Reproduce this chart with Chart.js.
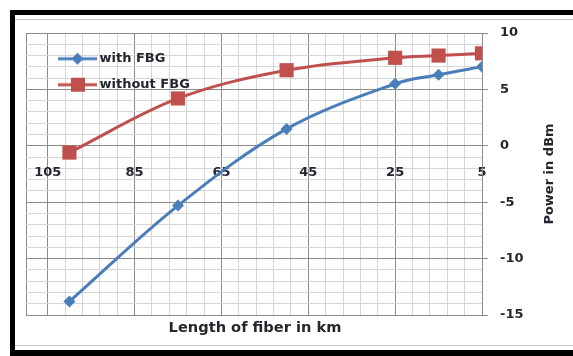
<!DOCTYPE html>
<html>
<head>
<meta charset="utf-8">
<script src="https://cdn.jsdelivr.net/npm/chart.js@4.4.0/dist/chart.umd.min.js"></script>
<style>
  body { margin: 0; background: #fff; }
  #wrap { position: relative; width: 573px; height: 356px; overflow: hidden; }
  #chart { position: absolute; left: 0; top: 0; }
  .frame { position: absolute; pointer-events: none; }
</style>
</head>
<body>
<div id="wrap">
  <canvas id="chart" width="573" height="356"></canvas>
  <div class="frame" style="left:10px; top:10px; width:600px; height:5px; background:#000"></div>
  <div class="frame" style="left:10px; top:10px; width:5px; height:346px; background:#000"></div>
  <div class="frame" style="left:10px; top:350px; width:600px; height:6px; background:#000"></div>
  <div class="frame" style="left:15px; top:19px; width:600px; height:1px; background:#c8c8c8"></div>
  <div class="frame" style="left:15px; top:345px; width:600px; height:1px; background:#c8c8c8"></div>
</div>
<script>
// fiber length in km
const distances = [100, 75, 50, 25, 15, 5]
// power in dBm
const withFBG = [-13.8, -5.3, 1.5, 5.5, 6.3, 7.0]
const withoutFBG = [-0.6, 4.2, 6.7, 7.8, 8.0, 8.2]

const xTickLabels = [105, 85, 65, 45, 25, 5]
const yTickLabels = [10, 5, 0, -5, -10, -15]

const xMinorStep = 4
const xMax = 110

const blue = '#4a7ebb'
const red = '#c0504d'
const textColor = '#262630'
const majorGrid = '#8c8c8c'
const minorGrid = '#d6d6d6'

function toPoints(values) {
  return distances.map((d, i) => ({ x: d, y: values[i] }))
}

// legend symbol: line with the marker in the middle
function legendSymbol(color, style) {
  const c = document.createElement('canvas')
  c.width = 62
  c.height = 16
  const ctx = c.getContext('2d')
  ctx.strokeStyle = color
  ctx.lineWidth = 3
  ctx.beginPath()
  ctx.moveTo(23, 8)
  ctx.lineTo(62, 8)
  ctx.stroke()
  ctx.fillStyle = color
  if (style === 'rect') {
    ctx.fillRect(36, 1, 14, 14)
  } else {
    ctx.beginPath()
    ctx.moveTo(42.5, 2)
    ctx.lineTo(48.5, 8)
    ctx.lineTo(42.5, 14)
    ctx.lineTo(36.5, 8)
    ctx.closePath()
    ctx.fill()
  }
  return c
}

const axisTitles = {
  id: 'axisTitles',
  afterDraw(chart) {
    const ctx = chart.ctx
    ctx.save()
    ctx.fillStyle = textColor
    ctx.font = 'bold 14.6px "DejaVu Sans"'
    ctx.textAlign = 'center'
    ctx.textBaseline = 'middle'
    ctx.fillText('Length of fiber in km', 255, 328)
    ctx.translate(550, 174)
    ctx.rotate(-Math.PI / 2)
    ctx.font = 'bold 13px "DejaVu Sans"'
    ctx.fillText('Power in dBm', 0, 0)
    ctx.restore()
  }
}

const isMajorX = v => v === xMax || xTickLabels.includes(v)
const isMajorY = v => yTickLabels.includes(v)

new Chart(document.getElementById('chart'), {
  type: 'line',
  data: {
    datasets: [{
      label: 'with FBG',
      data: toPoints(withFBG),
      borderColor: blue,
      backgroundColor: blue,
      borderWidth: 3,
      pointStyle: 'rectRot',
      pointRadius: 6,
      pointBorderWidth: 0,
      tension: 0.35
    }, {
      label: 'without FBG',
      data: toPoints(withoutFBG),
      borderColor: red,
      backgroundColor: red,
      borderWidth: 3,
      pointStyle: 'rect',
      pointRadius: 10,
      pointBorderWidth: 0,
      tension: 0.35
    }]
  },
  options: {
    responsive: false,
    animation: false,
    layout: {
      padding: { left: 26, top: 33, bottom: 41, right: 0 }
    },
    scales: {
      x: {
        type: 'linear',
        reverse: true,
        min: 5,
        max: xMax,
        position: { y: 0 },
        afterBuildTicks: scale => {
          const ticks = []
          for (let v = 5; v <= 105; v += xMinorStep) ticks.push({ value: v })
          ticks.push({ value: xMax })
          scale.ticks = ticks
        },
        grid: {
          drawTicks: false,
          color: ctx => isMajorX(ctx.tick.value) ? majorGrid : minorGrid
        },
        border: { color: majorGrid },
        ticks: {
          autoSkip: false,
          maxRotation: 0,
          padding: 19,
          color: textColor,
          font: { family: 'DejaVu Sans', size: 13, weight: 'bold' },
          callback: v => xTickLabels.includes(v) ? String(v) : ''
        }
      },
      y: {
        position: 'right',
        min: -15,
        max: 10,
        afterFit: scale => { scale.width = 91 },
        grid: {
          tickLength: 6,
          color: ctx => isMajorY(ctx.tick.value) ? majorGrid : minorGrid,
          tickColor: ctx => isMajorY(ctx.tick.value) ? majorGrid : 'rgba(0,0,0,0)'
        },
        border: { color: majorGrid },
        ticks: {
          stepSize: 1,
          autoSkip: false,
          padding: 12,
          color: textColor,
          font: { family: 'DejaVu Sans', size: 13, weight: 'bold' },
          callback: v => yTickLabels.includes(v) ? String(v) : ''
        }
      }
    },
    plugins: {
      legend: {
        position: 'chartArea',
        align: 'start',
        title: { display: true, text: '', padding: { top: 32, bottom: 6 }, font: { size: 1 } },
        labels: {
          usePointStyle: true,
          pointStyleWidth: 54,
          padding: 13,
          color: textColor,
          font: { family: 'DejaVu Sans', size: 13, weight: 'bold' },
          generateLabels: chart => chart.data.datasets.map((ds, i) => ({
            text: ds.label,
            datasetIndex: i,
            fontColor: textColor,
            pointStyle: legendSymbol(ds.borderColor, ds.pointStyle === 'rect' ? 'rect' : 'diamond'),
            lineWidth: 0,
            strokeStyle: 'rgba(0,0,0,0)',
            fillStyle: 'rgba(0,0,0,0)'
          }))
        }
      },
      tooltip: { enabled: false }
    }
  },
  plugins: [axisTitles]
})
</script>
</body>
</html>
